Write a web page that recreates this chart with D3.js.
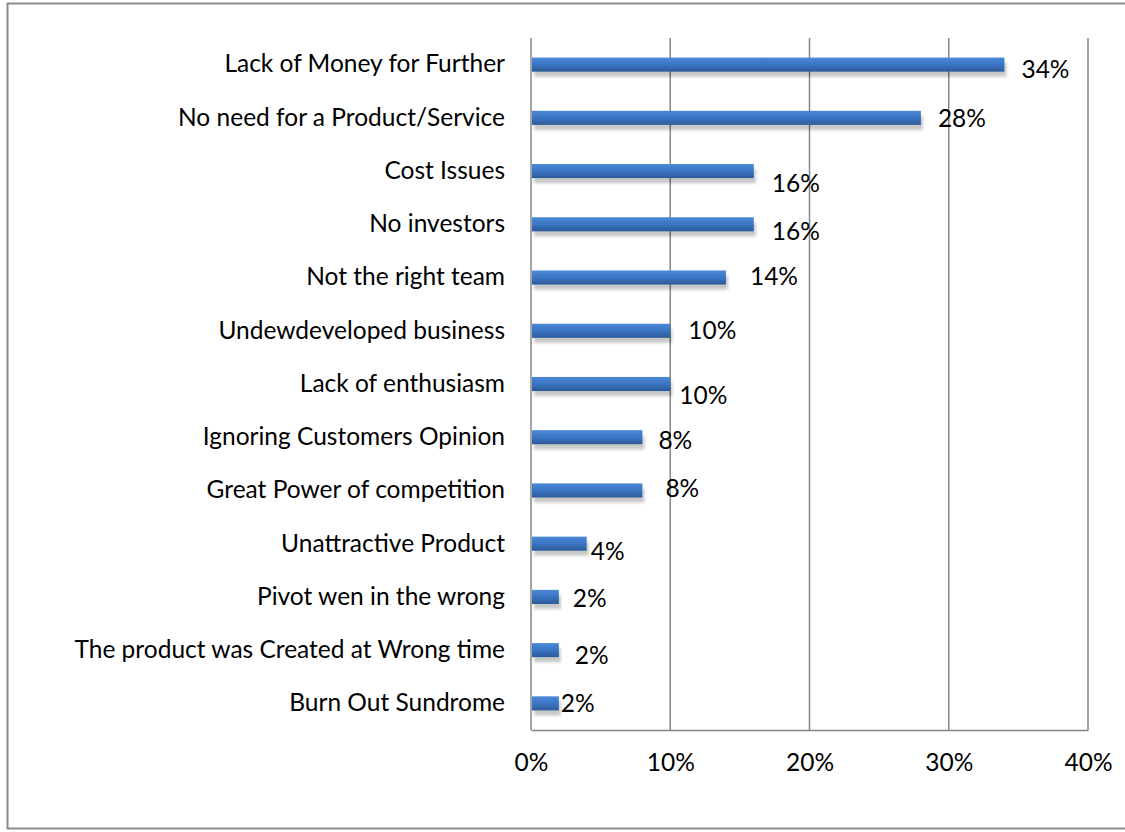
<!DOCTYPE html>
<html>
<head>
<meta charset="utf-8">
<script src="https://cdn.jsdelivr.net/npm/d3@7"></script>
<style>
  body { margin: 0; background: #fff; }
  text { font-family: Lato, "Open Sans", sans-serif; fill: #000; }
</style>
</head>
<body>
<svg id="chart" width="1125" height="832"></svg>
<script>
// Categories, top to bottom
const categories = [
  "Lack of Money for Further",
  "No need for a Product/Service",
  "Cost Issues",
  "No investors",
  "Not the right team",
  "Undewdeveloped business",
  "Lack of enthusiasm",
  "Ignoring Customers Opinion",
  "Great Power of competition",
  "Unattractive Product",
  "Pivot wen in the wrong",
  "The product was Created at Wrong time",
  "Burn Out Sundrome"
];

// Share of answers (fraction)
const values = [0.34, 0.28, 0.16, 0.16, 0.14, 0.10, 0.10, 0.08, 0.08, 0.04, 0.02, 0.02, 0.02];

// Axis ticks
const ticks = [0, 0.1, 0.2, 0.3, 0.4];

// Hand-placed label nudges from the original (px, from bar end / bar centre)
const labelDx = [17, 17, 18, 18, 24, 18, 9, 16, 23, 4, 14, 16, 2];
const labelDy = [5, 1, 12, 7, -1, 0, 11, 3, -2, 8, 2, 5, 0];

const fontSize = "24.5px";

const svg = d3.select("#chart");
const plot = { left: 531, right: 1088, top: 38, bottom: 730 };

const x = d3.scaleLinear().domain([0, 0.4]).range([plot.left, plot.right]);
const y = d3.scaleBand().domain(categories).range([plot.top, plot.bottom]).paddingInner(0.735).paddingOuter(0.3675);

// Defs: bar gradient and shadow
const defs = svg.append("defs");
const grad = defs.append("linearGradient").attr("id", "barGrad")
  .attr("x1", 0).attr("y1", 0).attr("x2", 0).attr("y2", 1);
grad.append("stop").attr("offset", "0%").attr("stop-color", "#4a88d6");
grad.append("stop").attr("offset", "50%").attr("stop-color", "#3a75c4");
grad.append("stop").attr("offset", "100%").attr("stop-color", "#2c5a96");

const shadow = defs.append("filter").attr("id", "shadow")
  .attr("x", "-5%").attr("y", "-50%").attr("width", "115%").attr("height", "220%");
shadow.append("feDropShadow").attr("dx", 2).attr("dy", 5)
  .attr("stdDeviation", 1.5).attr("flood-color", "#000").attr("flood-opacity", 0.22);

// Outer frame
svg.append("rect")
  .attr("x", 7.5).attr("y", 3.5).attr("width", 1130).attr("height", 825)
  .attr("fill", "none").attr("stroke", "#8c8c8c").attr("stroke-width", 2);

// Gridlines
svg.append("g")
  .selectAll("line")
  .data(ticks)
  .join("line")
    .attr("x1", d => x(d)).attr("x2", d => x(d))
    .attr("y1", plot.top).attr("y2", plot.bottom)
    .attr("stroke", "#868686").attr("stroke-width", 1.5);

// Bottom axis line + tick labels
const xAxis = svg.append("g")
  .attr("transform", `translate(0, ${plot.bottom})`)
  .call(d3.axisBottom(x).tickValues(ticks).tickFormat(d3.format(".0%")).tickSize(0).tickPadding(24));
xAxis.select(".domain").attr("stroke", "#868686").attr("stroke-width", 1.5);
xAxis.selectAll("text").style("font-size", fontSize).style("font-family", "Lato, sans-serif").attr("fill", "#000");

// Category labels
const yAxis = svg.append("g")
  .attr("transform", `translate(${plot.left}, 0)`)
  .call(d3.axisLeft(y).tickSize(0).tickPadding(26));
yAxis.select(".domain").remove();
yAxis.selectAll("text").style("font-size", fontSize).style("font-family", "Lato, sans-serif").attr("fill", "#000");

// Bars
svg.append("g")
  .selectAll("rect")
  .data(values)
  .join("rect")
    .attr("x", x(0) + 1)
    .attr("y", (d, i) => y(categories[i]))
    .attr("width", d => x(d) - x(0) - 1)
    .attr("height", y.bandwidth())
    .attr("fill", "url(#barGrad)")
    .attr("filter", "url(#shadow)");

// Value labels
svg.append("g")
  .selectAll("text")
  .data(values)
  .join("text")
    .attr("x", (d, i) => x(d) + labelDx[i])
    .attr("y", (d, i) => y(categories[i]) + y.bandwidth() / 2 + labelDy[i])
    .attr("dy", "0.35em")
    .style("font-size", fontSize)
    .text(d => d3.format(".0%")(d));
</script>
</body>
</html>
